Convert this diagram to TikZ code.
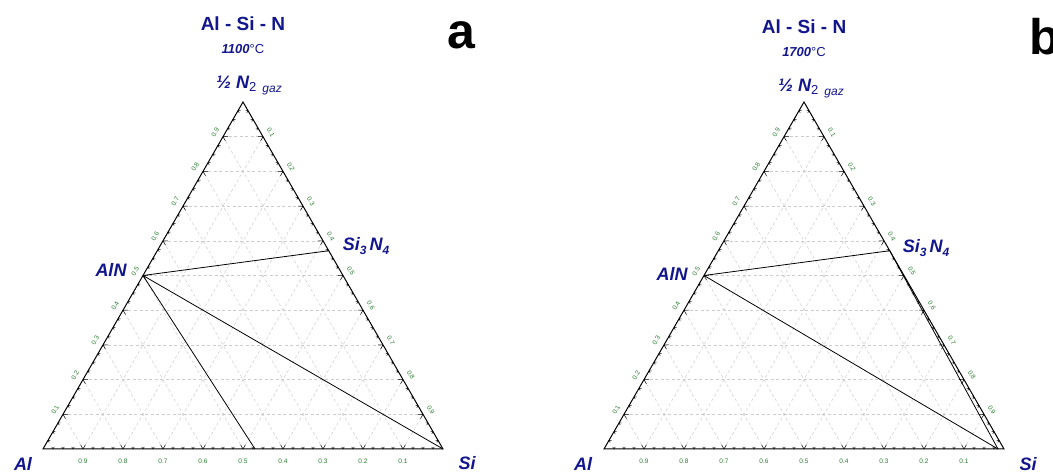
\documentclass[tikz,border=0pt]{standalone}
\usepackage{fontspec}
\setmainfont{Liberation Sans}
\usepackage{tikz}
\usetikzlibrary{positioning}
\usetikzlibrary{calc}
\definecolor{labblue}{RGB}{18,22,140}
\definecolor{tickgreen}{RGB}{40,125,45}
\tikzset{
	grid/.style = {gray!40, dash pattern=on 3pt off 2.5pt, line width=0.5pt},
	frame/.style = {black, line width=1pt},
	tie/.style = {black, line width=0.8pt},
	tickmark/.style = {black, line width=0.5pt},
	ticklab/.style = {text=tickgreen, font=\fontsize{6.5}{6.5}\selectfont, inner sep=0pt},
	comp/.style = {text=labblue, font=\fontsize{18}{18}\selectfont\bfseries\itshape, inner sep=0pt},
	title/.style = {text=labblue, font=\fontsize{19}{19}\selectfont\bfseries, inner sep=0pt},
	temp/.style = {text=labblue, font=\fontsize{13}{13}\selectfont, inner sep=0pt},
	panel/.style = {text=black, font=\fontsize{50}{50}\selectfont\bfseries, inner sep=0pt},
}
% grid, ticks and frame of one triangle, names prefixed by #1
\newcommand{\terngrid}[1]{%
	\foreach \k in {1,...,9}{
		\pgfmathsetmacro\f{\k/10}
		\pgfmathsetmacro\g{1-\k/10}
		\draw[grid] ($(#1Al)!\f!(#1N)$) -- ($(#1Si)!\f!(#1N)$);
		\draw[grid] ($(#1Al)!\f!(#1Si)$) -- ($(#1Si)!\g!(#1N)$);
		\draw[grid] ($(#1Al)!\f!(#1Si)$) -- ($(#1Al)!\f!(#1N)$);
	}
	\foreach \j in {1,...,39}{
		\pgfmathsetmacro\f{\j/40}
		\pgfmathsetmacro\tl{ifthenelse(mod(\j,4)==0,5,2.5)}
		\draw[tickmark] ($(#1Al)!\f!(#1Si)$) -- ++(60:\tl) ($(#1Al)!\f!(#1Si)$) -- ++(120:\tl);
		\draw[tickmark] ($(#1Al)!\f!(#1N)$) -- ++(0:\tl) ($(#1Al)!\f!(#1N)$) -- ++(-60:\tl);
		\draw[tickmark] ($(#1Si)!\f!(#1N)$) -- ++(180:\tl) ($(#1Si)!\f!(#1N)$) -- ++(240:\tl);
	}
	\foreach \k in {1,...,9}{
		\pgfmathsetmacro\f{\k/10}
		\pgfmathtruncatemacro\r{10-\k}
		\node[ticklab, rotate=60] (#1l\k) at ($(#1Al)!\f!(#1N) + (150:9)$) {0.\k};
		\node[ticklab, rotate=-60] (#1r\k) at ($(#1Si)!\f!(#1N) + (30:9)$) {0.\r};
		\node[ticklab] (#1b\k) at ($(#1Al)!\f!(#1Si) + (0,-12)$) {0.\r};
	}
	\draw[frame] (#1Al) -- (#1Si) -- (#1N) -- cycle;
}

\begin{document}
\begin{tikzpicture}[x=1pt, y=1pt]
	\useasboundingbox (0,0) rectangle (1053,473);
	% a : 1100 C
	\coordinate (a-Al) at (43,24);
	\coordinate (a-Si) at (443,24);
	\coordinate (a-N) at (243,371);
	\coordinate (a-AlN) at ($(a-Al)!0.5!(a-N)$);
	\coordinate (a-SiN) at ($(a-Si)!0.5714!(a-N)$);
	\coordinate (a-P) at ($(a-Al)!0.53!(a-Si)$);
	\terngrid{a-}
	\draw[tie] (a-AlN) -- (a-SiN);
	\draw[tie] (a-AlN) -- (a-Si);
	\draw[tie] (a-AlN) -- (a-P);
	\node[title] (a-head) at (243,449) {Al - Si - N};
	\node[temp] (a-temp) at (243,424) {\bfseries\itshape 1100\mdseries\upshape °C};
	\node[comp] (a-top) at (249,387) {½ N\raisebox{-3pt}{\fontsize{13}{13}\selectfont\mdseries\upshape 2}\,\,\raisebox{-4pt}{\fontsize{12}{12}\selectfont\mdseries gaz}};
	\node[comp] (a-lAlN) at (111,203) {AlN};
	\node[comp] (a-lSiN) at (366,227) {Si\raisebox{-4pt}{\fontsize{12}{12}\selectfont 3}\,N\raisebox{-4pt}{\fontsize{12}{12}\selectfont 4}};
	\node[comp] (a-lAl) at (23,9) {Al};
	\node[comp] (a-lSi) at (467,10) {Si};
	\node[panel] (a-tag) at (461,438) {a};
	% b : 1700 C
	\coordinate (b-Al) at (604,24);
	\coordinate (b-Si) at (1004,24);
	\coordinate (b-N) at (804,371);
	\coordinate (b-AlN) at ($(b-Al)!0.5!(b-N)$);
	\coordinate (b-SiN) at ($(b-Si)!0.5714!(b-N)$);
	\coordinate (b-P) at ($(b-Al)!0.985!(b-Si)$);
	\terngrid{b-}
	\draw[tie] (b-AlN) -- (b-SiN);
	\draw[tie] (b-AlN) -- (b-P);
	\draw[tie] (b-SiN) -- (b-P);
	\node[title] (b-head) at (804,446) {Al - Si - N};
	\node[temp] (b-temp) at (804,421) {\bfseries\itshape 1700\mdseries\upshape °C};
	\node[comp] (b-top) at (811,384) {½ N\raisebox{-3pt}{\fontsize{13}{13}\selectfont\mdseries\upshape 2}\,\,\raisebox{-4pt}{\fontsize{12}{12}\selectfont\mdseries gaz}};
	\node[comp] (b-lAlN) at (672,199) {AlN};
	\node[comp] (b-lSiN) at (926,225) {Si\raisebox{-4pt}{\fontsize{12}{12}\selectfont 3}\,N\raisebox{-4pt}{\fontsize{12}{12}\selectfont 4}};
	\node[comp] (b-lAl) at (583,9) {Al};
	\node[comp] (b-lSi) at (1028,9) {Si};
	\node[panel, anchor=west] (b-tag) at (1029,436) {b};
\end{tikzpicture}
\end{document}
